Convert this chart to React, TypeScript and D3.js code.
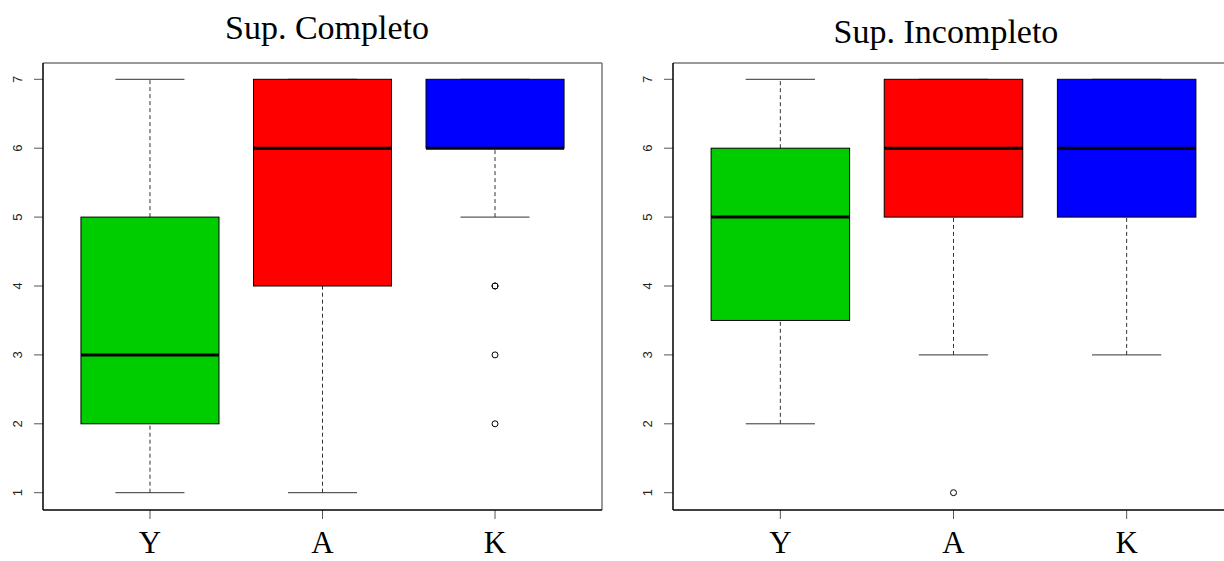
import React, { useEffect, useRef } from 'react';
import * as d3 from 'd3';

// categories and five-number summaries (low whisker, Q1, median, Q3, high whisker)
const categories = ['Y', 'A', 'K'];
const colors = ['#00CD00', '#FF0000', '#0000FF'];
const yTicks = [1, 2, 3, 4, 5, 6, 7];

const completoStats = [
  [1, 2, 3, 5, 7],
  [1, 4, 6, 7, 7],
  [5, 6, 6, 7, 7],
];
const completoOutliers = [[], [], [4, 4, 3, 2]];

const incompletoStats = [
  [2, 3.5, 5, 6, 7],
  [3, 5, 6, 7, 7],
  [3, 5, 6, 7, 7],
];
const incompletoOutliers = [[], [1], []];

const panels = [
  { title: 'Sup. Completo', stats: completoStats, outliers: completoOutliers, left: 43, right: 602, titleX: 327, titleY: 39 },
  { title: 'Sup. Incompleto', stats: incompletoStats, outliers: incompletoOutliers, left: 673, right: 1234, titleX: 946, titleY: 43 },
];

const W = 1224;
const H = 561;
const top = 63;
const bottom = 510;

export default function App() {
  const ref = useRef<SVGSVGElement>(null);

  useEffect(() => {
    const svg = d3.select(ref.current);
    svg.selectAll('*').remove();

    const y = d3.scaleLinear().domain([1, 7]).range([492.7, 79.3]);

    panels.forEach(p => {
      const x = d3.scaleLinear().domain([0.38, 3.62]).range([p.left, p.right]);
      const unit = x(2) - x(1);
      const g = svg.append('g');

      // title
      g.append('text')
        .attr('x', p.titleX)
        .attr('y', p.titleY)
        .attr('text-anchor', 'middle')
        .attr('font-family', '"Liberation Serif", "Times New Roman", serif')
        .attr('font-size', 34)
        .attr('fill', '#000')
        .text(p.title);

      // boxes
      p.stats.forEach((s, i) => {
        const cx = x(i + 1);
        const bw = unit * 0.8;
        const cw = bw / 2;
        const [lo, q1, med, q3, hi] = s;

        // whiskers
        [[lo, q1], [q3, hi]].forEach(([a, b]) => {
          if (a === b) return;
          g.append('line')
            .attr('x1', cx).attr('x2', cx)
            .attr('y1', y(a)).attr('y2', y(b))
            .attr('stroke', '#333')
            .attr('stroke-width', 1)
            .attr('stroke-dasharray', '4,3');
        });
        [lo, hi].forEach(v => {
          g.append('line')
            .attr('x1', cx - cw / 2).attr('x2', cx + cw / 2)
            .attr('y1', y(v)).attr('y2', y(v))
            .attr('stroke', '#333')
            .attr('stroke-width', 1);
        });

        g.append('rect')
          .attr('x', cx - bw / 2)
          .attr('y', y(q3))
          .attr('width', bw)
          .attr('height', y(q1) - y(q3))
          .attr('fill', colors[i])
          .attr('stroke', '#000')
          .attr('stroke-width', 1);

        g.append('line')
          .attr('x1', cx - bw / 2).attr('x2', cx + bw / 2)
          .attr('y1', y(med)).attr('y2', y(med))
          .attr('stroke', '#000')
          .attr('stroke-width', 3);

        p.outliers[i].forEach(v => {
          g.append('circle')
            .attr('cx', cx)
            .attr('cy', y(v))
            .attr('r', 3)
            .attr('fill', 'none')
            .attr('stroke', '#000')
            .attr('stroke-width', 1);
        });

        // x tick + label
        g.append('line')
          .attr('x1', cx).attr('x2', cx)
          .attr('y1', bottom).attr('y2', bottom + 9)
          .attr('stroke', '#555');
        g.append('text')
          .attr('x', cx)
          .attr('y', 553)
          .attr('text-anchor', 'middle')
          .attr('font-family', '"Liberation Serif", "Times New Roman", serif')
          .attr('font-size', 31)
          .attr('fill', '#000')
          .text(categories[i]);
      });

      // y axis ticks and labels
      yTicks.forEach(t => {
        g.append('line')
          .attr('x1', p.left - 9).attr('x2', p.left)
          .attr('y1', y(t)).attr('y2', y(t))
          .attr('stroke', '#555');
        g.append('text')
          .attr('transform', `translate(${p.left - 21},${y(t)}) rotate(-90)`)
          .attr('text-anchor', 'middle')
          .attr('font-family', '"Liberation Sans", Arial, sans-serif')
          .attr('font-size', 13)
          .attr('fill', '#222')
          .text(t);
      });

      // frame: top and right grey, left and bottom black
      g.append('line').attr('x1', p.left).attr('x2', p.right).attr('y1', top).attr('y2', top).attr('stroke', '#777').attr('stroke-width', 1.5);
      g.append('line').attr('x1', p.right).attr('x2', p.right).attr('y1', top).attr('y2', bottom).attr('stroke', '#777').attr('stroke-width', 1.5);
      g.append('line').attr('x1', p.left).attr('x2', p.left).attr('y1', top).attr('y2', bottom).attr('stroke', '#000').attr('stroke-width', 1.5);
      g.append('line').attr('x1', p.left).attr('x2', p.right).attr('y1', bottom).attr('y2', bottom).attr('stroke', '#000').attr('stroke-width', 1.5);
    });
  }, []);

  return (
    <div style={{ position: 'absolute', left: 0, top: 0 }}>
      <svg ref={ref} width={W} height={H} style={{ display: 'block', background: '#fff' }} />
    </div>
  );
}
